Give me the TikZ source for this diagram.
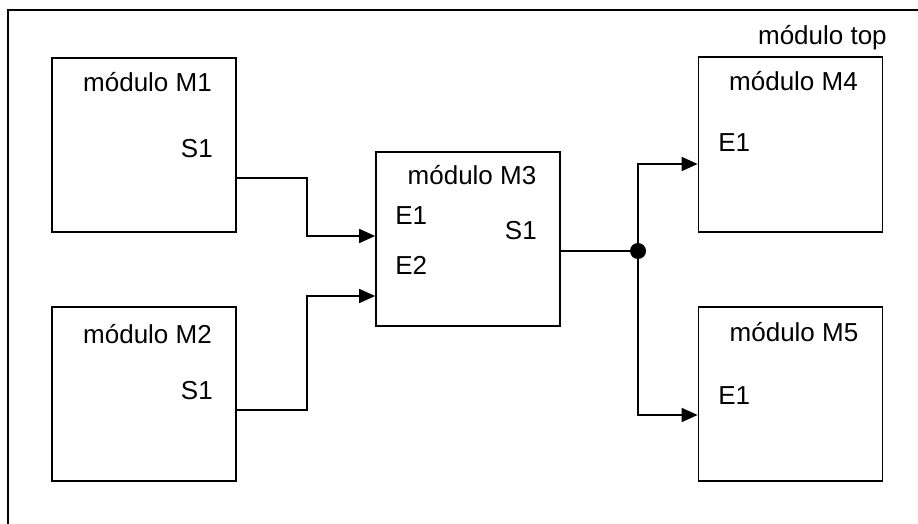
\documentclass[tikz,border=0pt]{standalone}
\usepackage{fontspec}
\setmainfont{Liberation Sans}
\usetikzlibrary{arrows.meta}
\tikzset{
  modbox/.style={draw, line width=1.3pt, minimum width=138pt, minimum height=131pt, inner sep=0pt},
  wire/.style={line width=1.3pt},
  arr/.style={wire, -{Triangle[length=12pt, width=10.5pt]}},
  lbl/.style={inner sep=0pt, font=\fontsize{19.5}{23}\selectfont}
}
\begin{document}
\begin{tikzpicture}[x=0.75pt, y=-0.75pt]
  \useasboundingbox (0,0) rectangle (918,524);
  % Frame of module top
  \draw[wire] (918,10) -- (8,10) -- (8,524);
  \node[lbl, anchor=base east] (ttop) at (887,45) {módulo top};
  % Modules
  \node[modbox] (m1) at (144,145) {};
  \node[modbox] (m2) at (144,394) {};
  \node[modbox, minimum height=130pt] (m3) at (468,239) {};
  \node[modbox] (m4) at (790.5,144.5) {};
  \node[modbox] (m5) at (790.5,394) {};
  % Titles
  \node[lbl, anchor=base] (t1) at (147.5,92) {módulo M1};
  \node[lbl, anchor=base] (t2) at (147.5,343) {módulo M2};
  \node[lbl, anchor=base] (t3) at (472,185) {módulo M3};
  \node[lbl, anchor=base] (t4) at (793.5,91) {módulo M4};
  \node[lbl, anchor=base] (t5) at (794,341) {módulo M5};
  % Ports
  \node[lbl, anchor=base east] (m1s1) at (213,158) {S1};
  \node[lbl, anchor=base east] (m2s1) at (213,399) {S1};
  \node[lbl, anchor=base west] (m3e1) at (395,224) {E1};
  \node[lbl, anchor=base west] (m3e2) at (395,275) {E2};
  \node[lbl, anchor=base east] (m3s1) at (537,239) {S1};
  \node[lbl, anchor=base west] (m4e1) at (718,152) {E1};
  \node[lbl, anchor=base west] (m5e1) at (718,404) {E1};
  % Pins on the box edges
  \coordinate (m1o) at (m1.east |- 0,178);
  \coordinate (m2o) at (m2.east |- 0,410);
  \coordinate (m3i1) at (m3.west |- 0,236);
  \coordinate (m3i2) at (m3.west |- 0,296);
  \coordinate (m3o) at (m3.east |- 0,251);
  \coordinate (m4i) at (m4.west |- 0,164);
  \coordinate (m5i) at (m5.west |- 0,415);
  \coordinate (fork) at (638,251);
  % Wires
  \draw[arr] (m1o) -- (307,178) |- (m3i1);
  \draw[arr] (m2o) -- (307,410) |- (m3i2);
  \draw[wire] (m3o) -- (fork);
  \draw[arr] (fork) |- (m4i);
  \draw[arr] (fork) |- (m5i);
  \fill (fork) circle (6pt);
\end{tikzpicture}
\end{document}
